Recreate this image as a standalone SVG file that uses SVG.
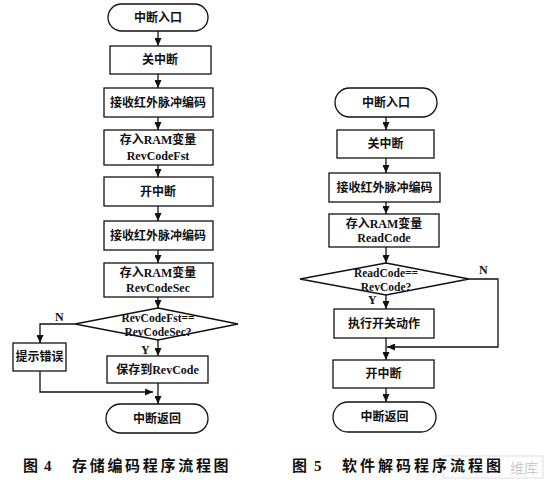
<svg xmlns="http://www.w3.org/2000/svg" width="549" height="488" viewBox="0 0 549 488">
<defs>
<marker id="ah" markerUnits="userSpaceOnUse" markerWidth="8" markerHeight="7" refX="8" refY="3.5" orient="auto">
<path d="M0,0 L8,3.5 L0,7 z" fill="#111"/>
</marker>
<style>
.b{fill:#fff;stroke:#111;stroke-width:1.3}
.t{font-family:"Liberation Serif","Noto Sans CJK SC",serif;font-weight:bold;font-size:12px;fill:#111;text-anchor:middle;dominant-baseline:central}
.d{font-family:"Liberation Serif","Noto Sans CJK SC",serif;font-weight:bold;font-size:11.5px;fill:#111;text-anchor:middle;dominant-baseline:central}
.l{font-family:"Liberation Serif",serif;font-weight:bold;font-size:12px;fill:#111}
.c{font-family:"Liberation Serif","Noto Sans CJK SC",serif;font-weight:bold;font-size:15px;fill:#111}
.a{fill:none;stroke:#111;stroke-width:1.3;marker-end:url(#ah)}
</style>
</defs>
<rect width="549" height="488" fill="#fff"/>

<g id="connectors">
<line class="a" x1="158" y1="31" x2="158" y2="46"/>
<line class="a" x1="158" y1="74" x2="158" y2="88"/>
<line class="a" x1="158" y1="117" x2="158" y2="130"/>
<line class="a" x1="158" y1="165" x2="158" y2="177"/>
<line class="a" x1="158" y1="206" x2="158" y2="221"/>
<line class="a" x1="158" y1="250" x2="158" y2="263"/>
<line class="a" x1="158" y1="297" x2="158" y2="308"/>
<polyline class="a" points="75,324 40,324 40,343"/>
<line class="a" x1="158" y1="340" x2="158" y2="356"/>
<line class="a" x1="158" y1="383" x2="158" y2="404"/>
<polyline class="a" points="40,371 40,392 153,392"/>
<line class="a" x1="386" y1="117" x2="386" y2="130"/>
<line class="a" x1="386" y1="158" x2="386" y2="173"/>
<line class="a" x1="386" y1="202" x2="386" y2="214"/>
<line class="a" x1="386" y1="247" x2="386" y2="263"/>
<line class="a" x1="386" y1="295" x2="386" y2="309"/>
<line class="a" x1="386" y1="338" x2="386" y2="360"/>
<polyline class="a" points="469,279 498,279 498,347 387,347"/>
<line class="a" x1="386" y1="388" x2="386" y2="402"/>
</g>

<g id="n1"><rect class="b" x="108" y="4" width="100" height="27" rx="13.5"/><text class="t" x="158" y="17.5">中断入口</text></g>
<g id="n2"><rect class="b" x="110" y="46" width="101" height="28"/><text class="t" x="160" y="60">关中断</text></g>
<g id="n3"><rect class="b" x="104" y="88" width="109" height="29"/><text class="t" x="158" y="102.5">接收红外脉冲编码</text></g>
<g id="n4"><rect class="b" x="104" y="130" width="109" height="35"/><text class="t" x="158" y="140">存入RAM变量</text><text class="t" x="158" y="156">RevCodeFst</text></g>
<g id="n5"><rect class="b" x="104" y="177" width="109" height="29"/><text class="t" x="158" y="191.5">开中断</text></g>
<g id="n6"><rect class="b" x="104" y="221" width="109" height="29"/><text class="t" x="158" y="235.5">接收红外脉冲编码</text></g>
<g id="n7"><rect class="b" x="104" y="263" width="109" height="34"/><text class="t" x="158" y="273">存入RAM变量</text><text class="t" x="158" y="288">RevCodeSec</text></g>
<g id="n8"><polygon class="b" points="158,308 238,324 158,340 75,324"/><text class="d" x="158" y="318">RevCodeFst==</text><text class="d" x="158" y="331.5">RevCodeSec?</text></g>
<g id="n9"><rect class="b" x="13" y="343" width="53" height="28"/><text class="t" x="39.5" y="357">提示错误</text></g>
<g id="n10"><rect class="b" x="107" y="356" width="101" height="27"/><text class="t" x="157.5" y="369.5">保存到RevCode</text></g>
<g id="n11"><rect class="b" x="106" y="404" width="102" height="29" rx="14.5"/><text class="t" x="157" y="418.5">中断返回</text></g>
<text class="l" x="55" y="321">N</text>
<text class="l" x="141" y="354">Y</text>

<g id="m1"><rect class="b" x="335" y="88" width="102" height="29" rx="14.5"/><text class="t" x="386" y="102.5">中断入口</text></g>
<g id="m2"><rect class="b" x="337" y="130" width="97" height="28"/><text class="t" x="385.5" y="144">关中断</text></g>
<g id="m3"><rect class="b" x="329" y="173" width="111" height="29"/><text class="t" x="384.5" y="187.5">接收红外脉冲编码</text></g>
<g id="m4"><rect class="b" x="329" y="214" width="110" height="33"/><text class="t" x="384" y="224">存入RAM变量</text><text class="t" x="384" y="238">ReadCode</text></g>
<g id="m5"><polygon class="b" points="386,263 469,279 386,295 300,279"/><text class="d" x="386" y="273">ReadCode==</text><text class="d" x="386" y="286.5">RevCode?</text></g>
<g id="m6"><rect class="b" x="334" y="309" width="100" height="29"/><text class="t" x="384" y="323.5">执行开关动作</text></g>
<g id="m7"><rect class="b" x="333" y="360" width="101" height="28"/><text class="t" x="383.5" y="374">开中断</text></g>
<g id="m8"><rect class="b" x="333" y="402" width="103" height="30" rx="15"/><text class="t" x="384.5" y="417">中断返回</text></g>
<text class="l" x="479" y="274">N</text>
<text class="l" x="368" y="304">Y</text>

<g id="wm" opacity="0.6"><rect x="443" y="456" width="100" height="22" fill="none" stroke="#ccc" stroke-width="1"/><text x="510" y="473" style="font-family:'Noto Sans CJK SC',sans-serif;font-size:14px;fill:#aaa">维库</text></g>

<text class="c" x="23" y="471">图</text>
<text class="c" x="44" y="471">4</text>
<text class="c" x="72" y="471" letter-spacing="2.7">存储编码程序流程图</text>
<text class="c" x="292" y="471">图</text>
<text class="c" x="314" y="471">5</text>
<text class="c" x="342" y="471" letter-spacing="3">软件解码程序流程图</text>
</svg>
